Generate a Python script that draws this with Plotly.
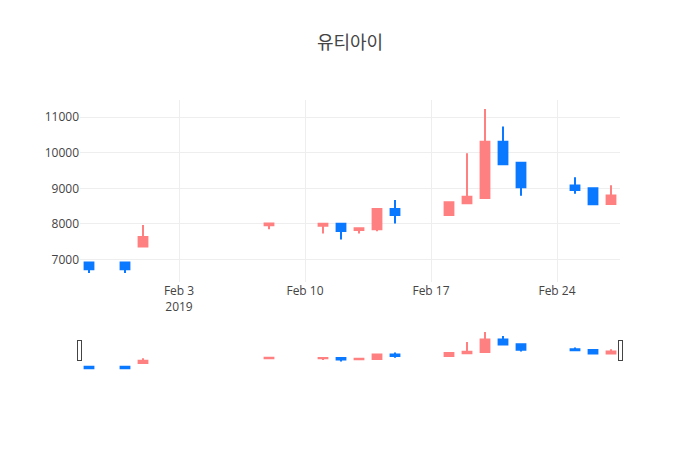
import plotly.graph_objects as go

# daily prices
dates = ['2019-01-29', '2019-01-31', '2019-02-01', '2019-02-08', '2019-02-11',
         '2019-02-12', '2019-02-13', '2019-02-14', '2019-02-15', '2019-02-18',
         '2019-02-19', '2019-02-20', '2019-02-21', '2019-02-22', '2019-02-25',
         '2019-02-26', '2019-02-27']
open_ = [6910, 6910, 7360, 7960, 7950, 8000, 7830, 7850, 8420, 8250,
         8580, 8730, 10310, 9720, 9080, 9000, 8560]
high = [6910, 6910, 7970, 8030, 8020, 8000, 7880, 8440, 8670, 8620,
        9990, 11230, 10740, 9740, 9310, 9000, 9090]
low = [6620, 6620, 7350, 7850, 7730, 7560, 7730, 7790, 8010, 8230,
       8570, 8720, 9670, 8790, 8850, 8540, 8550]
close = [6720, 6720, 7630, 8010, 8000, 7800, 7880, 8420, 8250, 8610,
         8760, 10310, 9680, 9030, 8950, 8550, 8800]

up_color = '#ff8080'
down_color = '#0a78ff'

trace = go.Candlestick(
    x=dates, open=open_, high=high, low=low, close=close,
    increasing=dict(line=dict(color=up_color), fillcolor=up_color),
    decreasing=dict(line=dict(color=down_color), fillcolor=down_color),
)

# page has an 8px body margin, so margins are nudged to keep the same plot box
layout = go.Layout(
    template='none',
    width=700, height=450,
    margin=dict(l=72, r=88, t=92, b=88),
    title=dict(text='유티아이', x=0.5, xref='paper',
               y=0.922, yref='container', yanchor='middle',
               font=dict(family='Noto Sans CJK KR, Open Sans', size=18)),
    font=dict(family='Open Sans, Noto Sans CJK KR', color='#444'),
    yaxis=dict(tickformat='d', zeroline=False),
    xaxis=dict(rangeslider=dict(visible=True)),
    showlegend=False,
)

fig = go.Figure(data=[trace], layout=layout)
fig.write_html('out.html')
